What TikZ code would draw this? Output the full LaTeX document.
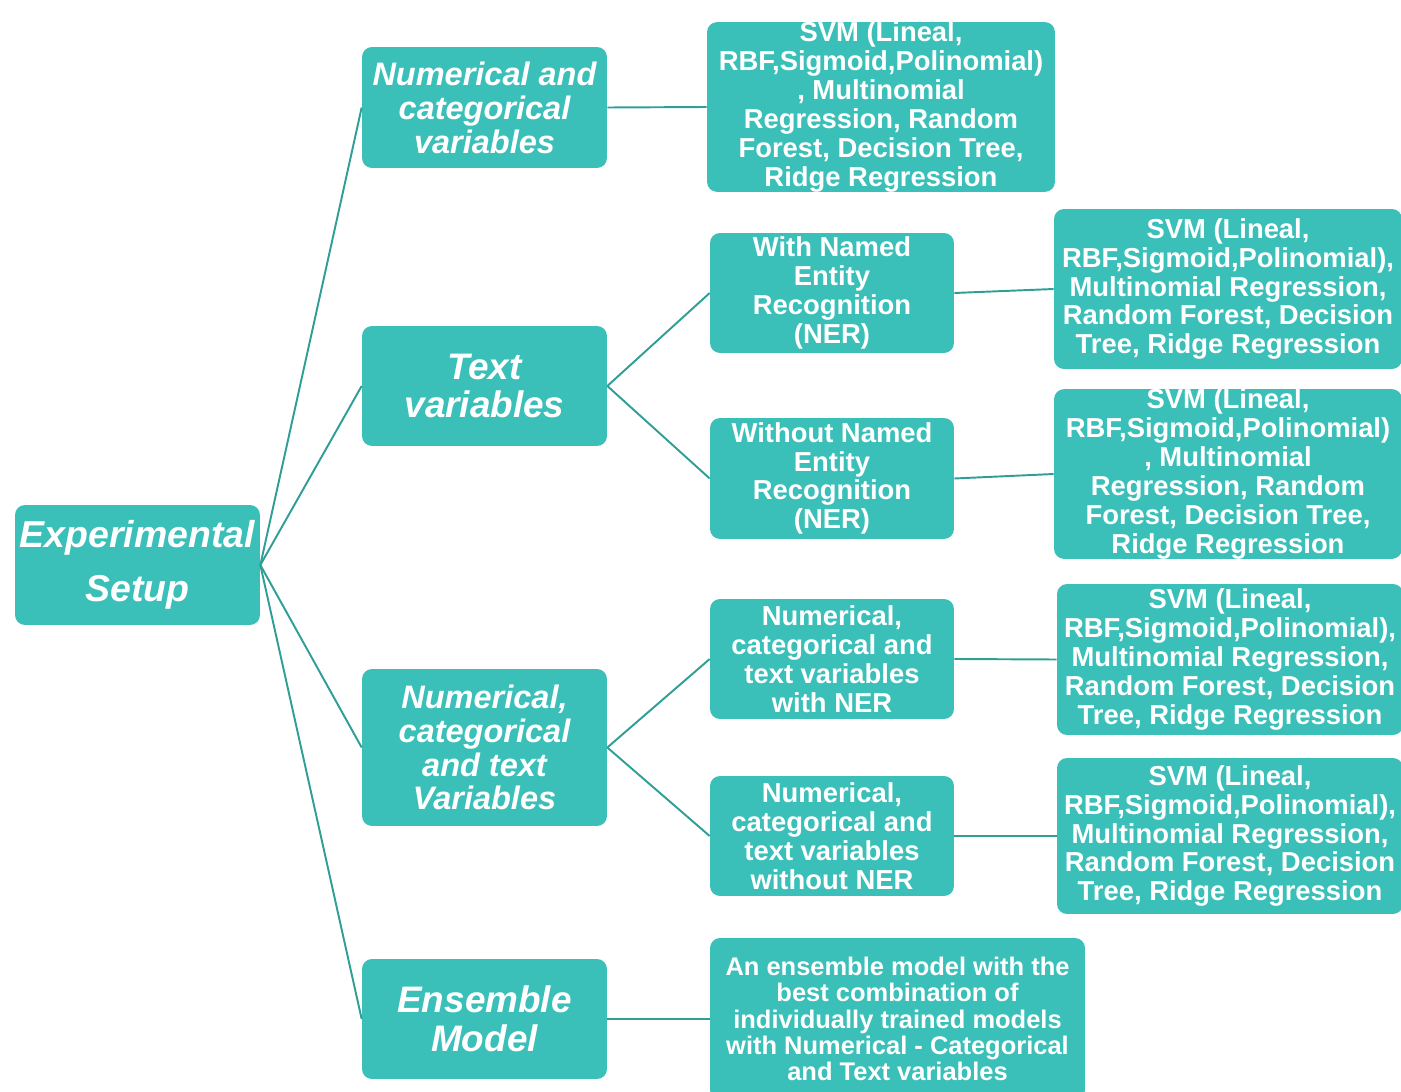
\documentclass[tikz,border=0pt]{standalone}
\usepackage{fontspec}
\setmainfont{Liberation Sans}
\definecolor{boxfill}{HTML}{3BBFB9}
\definecolor{linkcol}{HTML}{2E9E96}
\tikzset{
    box/.style={fill=boxfill, rounded corners=0.2cm, inner sep=0pt, align=center,
        text=white, font=\bfseries},
    topbox/.style={box, font=\bfseries\itshape},
    link/.style={draw=linkcol, line width=1.1pt},
    fA/.style={font=\bfseries\itshape\fontsize{21.3}{30.6}\selectfont},
    fB/.style={font=\bfseries\itshape\fontsize{18.5}{19.3}\selectfont},
    fC/.style={font=\bfseries\itshape\fontsize{21}{22}\selectfont},
    fD/.style={font=\bfseries\fontsize{15.6}{16.4}\selectfont},
    fE/.style={font=\bfseries\fontsize{14.5}{15}\selectfont}
}
\begin{document}
\begin{tikzpicture}[x=0.02cm, y=-0.02cm]
    \useasboundingbox (0,0) rectangle (1401,1092);

    \node[topbox, fA, minimum width=4.9cm, minimum height=2.4cm] (root) at (137.5,565)
        {Experimental\\Setup};

    \node[topbox, fB, minimum width=4.9cm, minimum height=2.42cm] (numcat) at (484.5,107.5)
        {Numerical and\\categorical\\variables};
    \node[topbox, fC, minimum width=4.9cm, minimum height=2.4cm] (textvar) at (484.5,386)
        {Text\\variables};
    \node[topbox, fB, minimum width=4.9cm, minimum height=3.14cm] (numcattext) at (484.5,747.5)
        {Numerical,\\categorical\\and text\\Variables};
    \node[topbox, fC, minimum width=4.9cm, minimum height=2.4cm] (ensemble) at (484.5,1019)
        {Ensemble\\Model};

    \node[box, fD, minimum width=6.96cm, minimum height=3.28cm] (svmA) at (881,107)
        {SVM (Lineal,\\RBF,Sigmoid,Polinomial)\\, Multinomial\\Regression, Random\\Forest, Decision Tree,\\Ridge Regression};
    \node[box, fD, minimum width=4.88cm, minimum height=2.4cm] (ner) at (832,293)
        {With Named\\Entity\\Recognition\\(NER)};
    \node[box, fD, minimum width=4.88cm, minimum height=2.42cm] (noner) at (832,478.5)
        {Without Named\\Entity\\Recognition\\(NER)};
    \node[box, fD, minimum width=4.88cm, minimum height=2.4cm] (allner) at (832,659)
        {Numerical,\\categorical and\\text variables\\with NER};
    \node[box, fD, minimum width=4.88cm, minimum height=2.4cm] (allnoner) at (832,836)
        {Numerical,\\categorical and\\text variables\\without NER};
    \node[box, fE, minimum width=7.5cm, minimum height=3.24cm] (enstext) at (897.5,1019)
        {An ensemble model with the\\best combination of\\individually trained models\\with Numerical - Categorical\\and Text variables};

    \node[box, fD, minimum width=6.96cm, minimum height=3.2cm] (svmB) at (1228,289)
        {SVM (Lineal,\\RBF,Sigmoid,Polinomial),\\Multinomial Regression,\\Random Forest, Decision\\Tree, Ridge Regression};
    \node[box, fD, minimum width=6.96cm, minimum height=3.28cm] (svmC) at (1228,474)
        {SVM (Lineal,\\RBF,Sigmoid,Polinomial)\\, Multinomial\\Regression, Random\\Forest, Decision Tree,\\Ridge Regression};
    \node[box, fD, minimum width=6.92cm, minimum height=3.02cm] (svmD) at (1230,659.5)
        {SVM (Lineal,\\RBF,Sigmoid,Polinomial),\\Multinomial Regression,\\Random Forest, Decision\\Tree, Ridge Regression};
    \node[box, fD, minimum width=6.92cm, minimum height=3.12cm] (svmE) at (1230,836)
        {SVM (Lineal,\\RBF,Sigmoid,Polinomial),\\Multinomial Regression,\\Random Forest, Decision\\Tree, Ridge Regression};

    \foreach \n in {numcat,textvar,numcattext,ensemble}
        \draw[link] (root.east) -- (\n.west);

    \draw[link] (numcat.east) -- (svmA.west);
    \draw[link] (textvar.east) -- (ner.west);
    \draw[link] (textvar.east) -- (noner.west);
    \draw[link] (numcattext.east) -- (allner.west);
    \draw[link] (numcattext.east) -- (allnoner.west);
    \draw[link] (ensemble.east) -- (enstext.west);

    \draw[link] (ner.east) -- (svmB.west);
    \draw[link] (noner.east) -- (svmC.west);
    \draw[link] (allner.east) -- (svmD.west);
    \draw[link] (allnoner.east) -- (svmE.west);
\end{tikzpicture}
\end{document}
